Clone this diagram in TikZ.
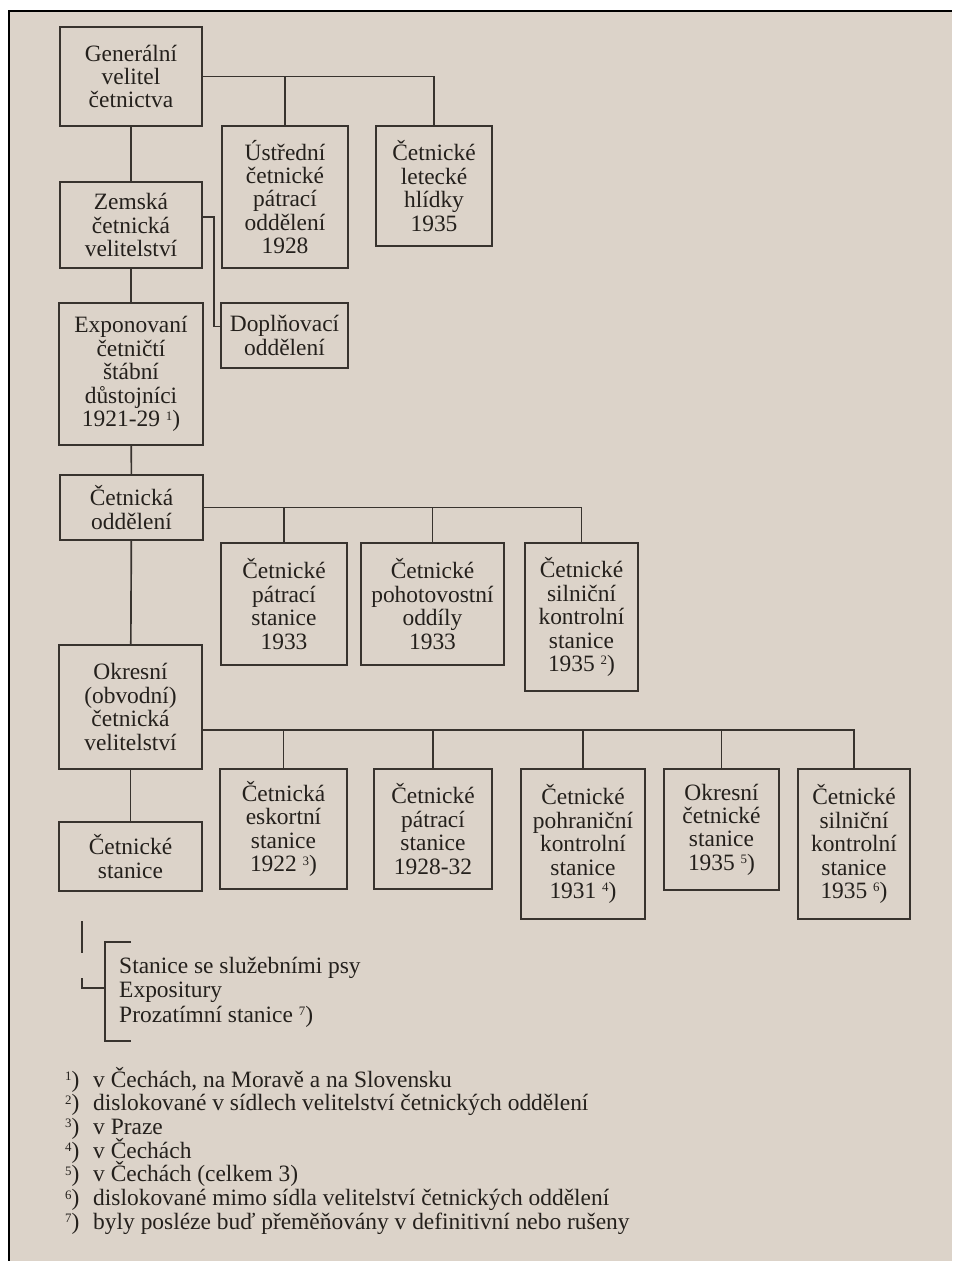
\documentclass[tikz,border=0pt]{standalone}
\usepackage{fontspec}
\setmainfont{Liberation Serif}
\usetikzlibrary{calc}
\definecolor{paper}{RGB}{220,211,201}
\definecolor{ink}{RGB}{36,32,28}
\definecolor{rule}{RGB}{56,51,46}
\newcommand{\fnm}[1]{\raisebox{5.5pt}{\fontsize{11}{11}\selectfont #1})}
\newcommand{\fnlabel}[1]{\makebox[8.4mm][l]{\fnm{#1}}}

\tikzset{
  boxsize/.style 2 args={minimum width=#1*0.3mm, minimum height=#2*0.3mm},
  orgbox/.style={draw=rule, line width=0.6mm, text=ink, align=center, inner sep=0pt,
    font=\fontsize{20}{20}\selectfont},
  link/.style={draw=rule, line width=0.5mm},
  note/.style={text=ink, inner sep=0pt, anchor=base west, font=\fontsize{20}{20}\selectfont}
}

\begin{document}
\begin{tikzpicture}[x=0.3mm, y=-0.3mm]
  \useasboundingbox (0,0) rectangle (952,1261);
  % Paper and frame
  \fill[paper] (9,11) rectangle (952,1261);
  \draw[black, line width=0.6mm] (9,1261) -- (9,11) -- (952,11);

  % Top level
  \node[orgbox, boxsize={142}{99}] (gen) at (131,76.5) {Generální\\velitel\\četnictva};
  \node[orgbox, boxsize={126}{142}] (ustr) at (285,197) {Ústřední\\četnické\\pátrací\\oddělení\\1928};
  \node[orgbox, boxsize={116}{120}] (letecke) at (434,186) {Četnické\\letecké\\hlídky\\1935};

  % Land commands
  \node[orgbox, boxsize={142}{86}] (zem) at (131,225) {Zemská\\četnická\\velitelství};
  \node[orgbox, boxsize={127}{65}] (dopl) at (284.5,335.5) {Doplňovací\\oddělení};
  \node[orgbox, boxsize={144}{142}] (expo) at (131,374) {Exponovaní\\četničtí\\štábní\\důstojníci\\1921-29 \fnm{1}};

  % Departments
  \node[orgbox, boxsize={143}{65}] (odd) at (131.5,507.5) {Četnická\\oddělení};
  \node[orgbox, boxsize={126}{122}] (patr) at (284,604) {Četnické\\pátrací\\stanice\\1933};
  \node[orgbox, boxsize={143}{122}] (poh) at (432.5,604) {Četnické\\pohotovostní\\oddíly\\1933};
  \node[orgbox, boxsize={113}{148}] (silA) at (581.5,617) {Četnické\\silniční\\kontrolní\\stanice\\1935 \fnm{2}};

  % District commands
  \node[orgbox, boxsize={143}{124}] (okr) at (130.5,707) {Okresní\\(obvodní)\\četnická\\velitelství};
  \node[orgbox, boxsize={127}{120}] (esk) at (283.5,829) {Četnická\\eskortní\\stanice\\1922 \fnm{3}};
  \node[orgbox, boxsize={118}{120}] (patrB) at (433,829) {Četnické\\pátrací\\stanice\\1928-32};
  \node[orgbox, boxsize={124}{150}] (pohr) at (583,844) {Četnické\\pohraniční\\kontrolní\\stanice\\1931 \fnm{4}};
  \node[orgbox, boxsize={115}{121}] (okrst) at (721.5,829.5) {Okresní\\četnické\\stanice\\1935 \fnm{5}};
  \node[orgbox, boxsize={112}{150}] (silB) at (854,844) {Četnické\\silniční\\kontrolní\\stanice\\1935 \fnm{6}};
  \node[orgbox, boxsize={143}{69}] (stan) at (130.5,856.5) {Četnické\\stanice};

  % Connectors
  \draw[link] (gen.east) -| (letecke.north);
  \draw[link] (ustr.north) -- (ustr.north |- gen.east);
  \draw[link] (gen) -- (zem);
  \draw[link] ([yshift=2.4mm]zem.east) -- ++(11,0) |- ([yshift=2.7mm]dopl.west);
  \draw[link] (zem) -- (expo);
  \draw[link] (expo) -- (odd);
  \draw[link] (odd.east) -| (silA.north);
  \draw[link] (patr.north) -- (patr.north |- odd.east);
  \draw[link] (poh.north) -- (poh.north |- odd.east);
  \draw[link] (odd) -- (okr);
  \coordinate (okrbus) at ([yshift=-6.9mm]okr.east);
  \draw[link] (okrbus) -| (silB.north);
  \draw[link] (esk.north) -- (esk.north |- okrbus);
  \draw[link] (patrB.north) -- (patrB.north |- okrbus);
  \draw[link] (pohr.north) -- (pohr.north |- okrbus);
  \draw[link] (okrst.north) -- (okrst.north |- okrbus);
  \draw[link] (okr) -- (stan);

  % Bracket
  \draw[link] (82,921) -- (82,953);
  \draw[link] (82,978) -- (82,988) -- (105,988);
  \draw[link] (131,942) -- (105,942) -- (105,1041) -- (131,1041);
  \node[note] (psy) at (119,973) {Stanice se služebními psy};
  \node[note] (expos) at (119,997.5) {Expositury};
  \node[note] (proz) at (119,1022) {Prozatímní stanice \fnm{7}};

  % Footnotes
  \node[note] (fn1) at (65,1087) {\fnlabel{1}v Čechách, na Moravě a na Slovensku};
  \node[note] (fn2) at (65,1110.7) {\fnlabel{2}dislokované v sídlech velitelství četnických oddělení};
  \node[note] (fn3) at (65,1134.4) {\fnlabel{3}v Praze};
  \node[note] (fn4) at (65,1158) {\fnlabel{4}v Čechách};
  \node[note] (fn5) at (65,1181.8) {\fnlabel{5}v Čechách (celkem 3)};
  \node[note] (fn6) at (65,1205.5) {\fnlabel{6}dislokované mimo sídla velitelství četnických oddělení};
  \node[note] (fn7) at (65,1229.2) {\fnlabel{7}byly posléze buď přeměňovány v definitivní nebo rušeny};
\end{tikzpicture}
\end{document}
